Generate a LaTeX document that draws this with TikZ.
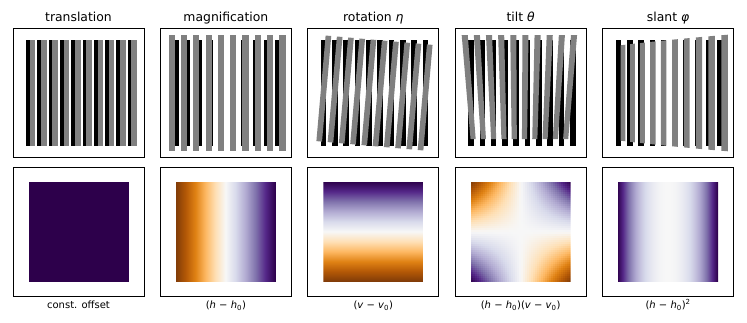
\documentclass[tikz,border=0pt]{standalone}
\usepackage{fontspec}
\setmainfont{DejaVu Sans}
\definecolor{cA}{HTML}{7F3B08}
\definecolor{cB}{HTML}{B35806}
\definecolor{cC}{HTML}{E08214}
\definecolor{cD}{HTML}{FDB863}
\definecolor{cE}{HTML}{FEE0B6}
\definecolor{cF}{HTML}{F7F7F7}
\definecolor{cG}{HTML}{D8DAEB}
\definecolor{cH}{HTML}{B2ABD2}
\definecolor{cI}{HTML}{8073AC}
\definecolor{cJ}{HTML}{542788}
\definecolor{cK}{HTML}{2D004B}
\definecolor{barGray}{HTML}{808080}
\newcommand\cmname[1]{\ifcase#1 cA\or cB\or cC\or cD\or cE\or cF\or cG\or cH\or cI\or cJ\or cK\fi}
\newcommand\cmapset[1]{%
  \pgfmathsetmacro\cmT{max(0,min(0.99999,#1))*10}%
  \pgfmathtruncatemacro\cmK{\cmT}%
  \pgfmathtruncatemacro\cmKn{\cmK+1}%
  \pgfmathsetmacro\cmP{(1-(\cmT-\cmK))*100}%
  \edef\cmX{\cmname{\cmK}}%
  \edef\cmY{\cmname{\cmKn}}%
  \colorlet{cc}{\cmX!\cmP!\cmY}%
}
\newcommand\blackgrating{%
  \foreach \i in {0,...,9}{\fill[black] ({13+11.3*\i},40) rectangle ++(5.65,106);}}
\newcommand\graygrating{%
  \foreach \i in {0,...,9}{\fill[gbar] ({13+11.3*\i},40) rectangle ++(5.65,106);}}
\begin{document}
\begin{tikzpicture}[x=1pt,y=-1pt,
  frame/.style={draw=black,line width=0.9pt},
  gbar/.style={fill=barGray},
  ttl/.style={anchor=base,inner sep=0pt,font=\fontsize{12.4}{14}\selectfont},
  lbl/.style={anchor=base,inner sep=0pt,font=\fontsize{10}{12}\selectfont}]
\useasboundingbox[fill=white] (0,0) rectangle (747,322);

% ---------- panel 1: translation
\begin{scope}[shift={(13,0)}]
  \blackgrating
  \begin{scope}[shift={(3.7,0)}]\graygrating\end{scope}
  \draw[frame] (0,28) rectangle (131,157);
  \node[ttl] (t1) at (65.5,21) {translation};
  \fill[cK] (15.5,181.5) rectangle (115.5,281.5);
  \draw[frame] (0,167) rectangle (131,296);
  \node[lbl] (l1) at (65.5,308.5) {const. offset};
\end{scope}

% ---------- panel 2: magnification
\begin{scope}[shift={(160.4,0)}]
  \blackgrating
  \begin{scope}[scale around={1.09:(66.7,93)}]\graygrating\end{scope}
  \draw[frame] (0,28) rectangle (131,157);
  \node[ttl] (t2) at (65.5,21) {magnification};
  \begin{scope}
    \clip (15.5,181.5) rectangle (115.5,281.5);
    \foreach \j in {0,...,99}{
      \cmapset{(\j+0.5)/100}
      \fill[cc] ({15.5+\j},181.5) rectangle ({16.9+\j},281.5);
    }
  \end{scope}
  \draw[frame] (0,167) rectangle (131,296);
  \node[lbl] (l2) at (65.5,308.5) {(\textit{h} − \textit{h}\textsubscript{0})};
\end{scope}

% ---------- panel 3: rotation
\begin{scope}[shift={(307.8,0)}]
  \blackgrating
  \begin{scope}[rotate around={-5:(66.7,93)}]\graygrating\end{scope}
  \draw[frame] (0,28) rectangle (131,157);
  \node[ttl] (t3) at (65.5,21) {rotation \textit{η}};
  \begin{scope}
    \clip (15.5,181.5) rectangle (115.5,281.5);
    \foreach \j in {0,...,99}{
      \cmapset{1-(\j+0.5)/100}
      \fill[cc] (15.5,{181.5+\j}) rectangle (115.5,{182.9+\j});
    }
  \end{scope}
  \draw[frame] (0,167) rectangle (131,296);
  \node[lbl] (l3) at (65.5,308.5) {(\textit{v} − \textit{v}\textsubscript{0})};
\end{scope}

% ---------- panel 4: tilt
\begin{scope}[shift={(455.2,0)}]
  \blackgrating
  \foreach \i in {0,...,9}{
    \pgfmathsetmacro\xl{13+11.3*\i-66.7}
    \pgfmathsetmacro\xr{\xl+5.65}
    \fill[gbar] ({64.2+\xl*1.075},35) -- ({64.2+\xr*1.075},35)
      -- ({64.2+\xr*0.91},139) -- ({64.2+\xl*0.91},139) -- cycle;
  }
  \draw[frame] (0,28) rectangle (131,157);
  \node[ttl] (t4) at (65.5,21) {tilt \textit{θ}};
  \begin{scope}
    \clip (15.5,181.5) rectangle (115.5,281.5);
    \foreach \a in {0,...,49}{
      \foreach \b in {0,...,49}{
        \cmapset{0.5+0.5*((\a+0.5)/25-1)*(1-(\b+0.5)/25)}
        \fill[cc] ({15.5+2*\a},{181.5+2*\b}) rectangle ++(2.5,2.5);
      }
    }
  \end{scope}
  \draw[frame] (0,167) rectangle (131,296);
  \node[lbl] (l4) at (65.5,308.5) {(\textit{h} − \textit{h}\textsubscript{0})(\textit{v} − \textit{v}\textsubscript{0})};
\end{scope}

% ---------- panel 5: slant
\begin{scope}[shift={(602.6,0)}]
  \blackgrating
  \foreach \i in {0,...,9}{
    \pgfmathsetmacro\xl{13+11.3*\i-66.7}
    \pgfmathsetmacro\xr{\xl+5.65}
    \pgfmathsetmacro\ul{\xl/53.7}
    \pgfmathsetmacro\ur{\xr/53.7}
    \fill[gbar] ({66.7+\xl+5*\ul*\ul},{93-53*(1+0.1*\ul)})
      -- ({66.7+\xr+5*\ur*\ur},{93-53*(1+0.1*\ur)})
      -- ({66.7+\xr+5*\ur*\ur},{93+53*(1+0.1*\ur)})
      -- ({66.7+\xl+5*\ul*\ul},{93+53*(1+0.1*\ul)}) -- cycle;
  }
  \draw[frame] (0,28) rectangle (131,157);
  \node[ttl] (t5) at (65.5,21) {slant \textit{φ}};
  \begin{scope}
    \clip (15.5,181.5) rectangle (115.5,281.5);
    \foreach \j in {0,...,99}{
      \cmapset{0.5+0.5*((\j+0.5)/50-1)^2}
      \fill[cc] ({15.5+\j},181.5) rectangle ({16.9+\j},281.5);
    }
  \end{scope}
  \draw[frame] (0,167) rectangle (131,296);
  \node[lbl] (l5) at (65.5,308.5) {(\textit{h} − \textit{h}\textsubscript{0})\textsuperscript{2}};
\end{scope}
\end{tikzpicture}
\end{document}
